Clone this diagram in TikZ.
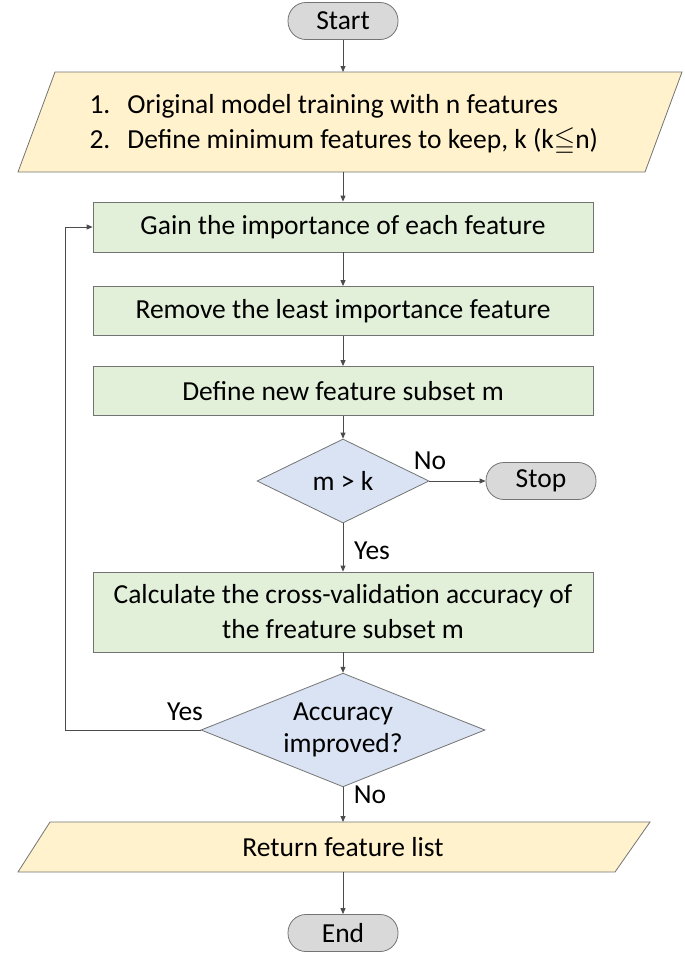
\documentclass[tikz,border=0pt]{standalone}
\usepackage{fontspec}
\setmainfont{Carlito}
\usepackage{amssymb}
\usetikzlibrary{shapes.geometric,arrows.meta}
\begin{document}
\begin{tikzpicture}[x=1pt,y=-1pt,font=\fontsize{27.5}{35}\selectfont,
  line/.style={draw=black!70,line width=0.8pt},
  arr/.style={line,-{Triangle[length=6pt,width=5pt]}},
  pill/.style={draw=black!55,line width=0.8pt,fill=black!15,rounded corners=18pt,minimum width=110pt,minimum height=37pt,inner sep=0pt},
  gbox/.style={draw=black!55,line width=0.8pt,minimum width=500pt,inner sep=0pt},
  dia/.style={draw=black!55,line width=0.8pt,diamond,aspect=2,inner sep=0pt}]
\definecolor{gfill}{HTML}{E2F0D9}
\definecolor{yfill}{HTML}{FFF2CC}
\definecolor{bfill}{HTML}{DAE3F3}
\useasboundingbox (0,0) rectangle (685,954);
\node[pill] (start) at (343,21) {Start};
\draw[draw=black!55,line width=0.8pt,fill=yfill] (55,72) -- (682,72) -- (645,172) -- (18,172) -- cycle;
\node[align=left,anchor=west] (p1) at (86,125) {1.\hspace{17pt}Original model training with n features\\2.\hspace{17pt}Define minimum features to keep, k (k$\leqq$n)};
\coordinate (p1t) at (343,72); \coordinate (p1b) at (343,172);
\node[gbox,fill=gfill,minimum height=50pt] (b1) at (343,227) {Gain the importance of each feature};
\node[gbox,fill=gfill,minimum height=49pt] (b2) at (343,311) {Remove the least importance feature};
\node[gbox,fill=gfill,minimum height=49pt] (b3) at (343,391) {Define new feature subset m};
\node[dia,fill=bfill,minimum width=172pt,minimum height=84pt] (d1) at (343,481) {m > k};
\node[pill] (stop) at (541,481) {Stop};
\node[gbox,fill=gfill,minimum height=80pt,align=center] (b4) at (343,612) {Calculate the cross-validation accuracy of\\the freature subset m};
\node[dia,fill=bfill,minimum width=284pt,minimum height=84pt,align=center,font=\fontsize{27.5}{32}\selectfont] (d2) at (343,730) {Accuracy\\improved?};
\draw[draw=black!55,line width=0.8pt,fill=yfill] (50,822) -- (650,822) -- (615,872) -- (18,872) -- cycle;
\node (p2) at (343,847) {Return feature list};
\coordinate (p2t) at (343,822); \coordinate (p2b) at (343,872);
\node[pill] (end) at (343,933) {End};
\draw[arr] (start) -- (p1t);
\draw[arr] (p1b) -- (b1);
\draw[arr] (b1) -- (b2);
\draw[arr] (b2) -- (b3);
\draw[arr] (b3) -- (d1);
\draw[arr] (d1) -- (stop);
\draw[arr] (d1) -- (b4);
\draw[arr] (b4) -- (d2);
\draw[arr] (d2) -- (p2t);
\draw[arr] (p2b) -- (end);
\coordinate (fb) at (65,730);
\draw[arr] (d2.west) -- (fb) |- (b1.west);
\node (no1) at (430,461) {No};
\node (yes1) at (372,551) {Yes};
\node (yes2) at (185,712) {Yes};
\node (no2) at (370,795) {No};
\end{tikzpicture}
\end{document}
